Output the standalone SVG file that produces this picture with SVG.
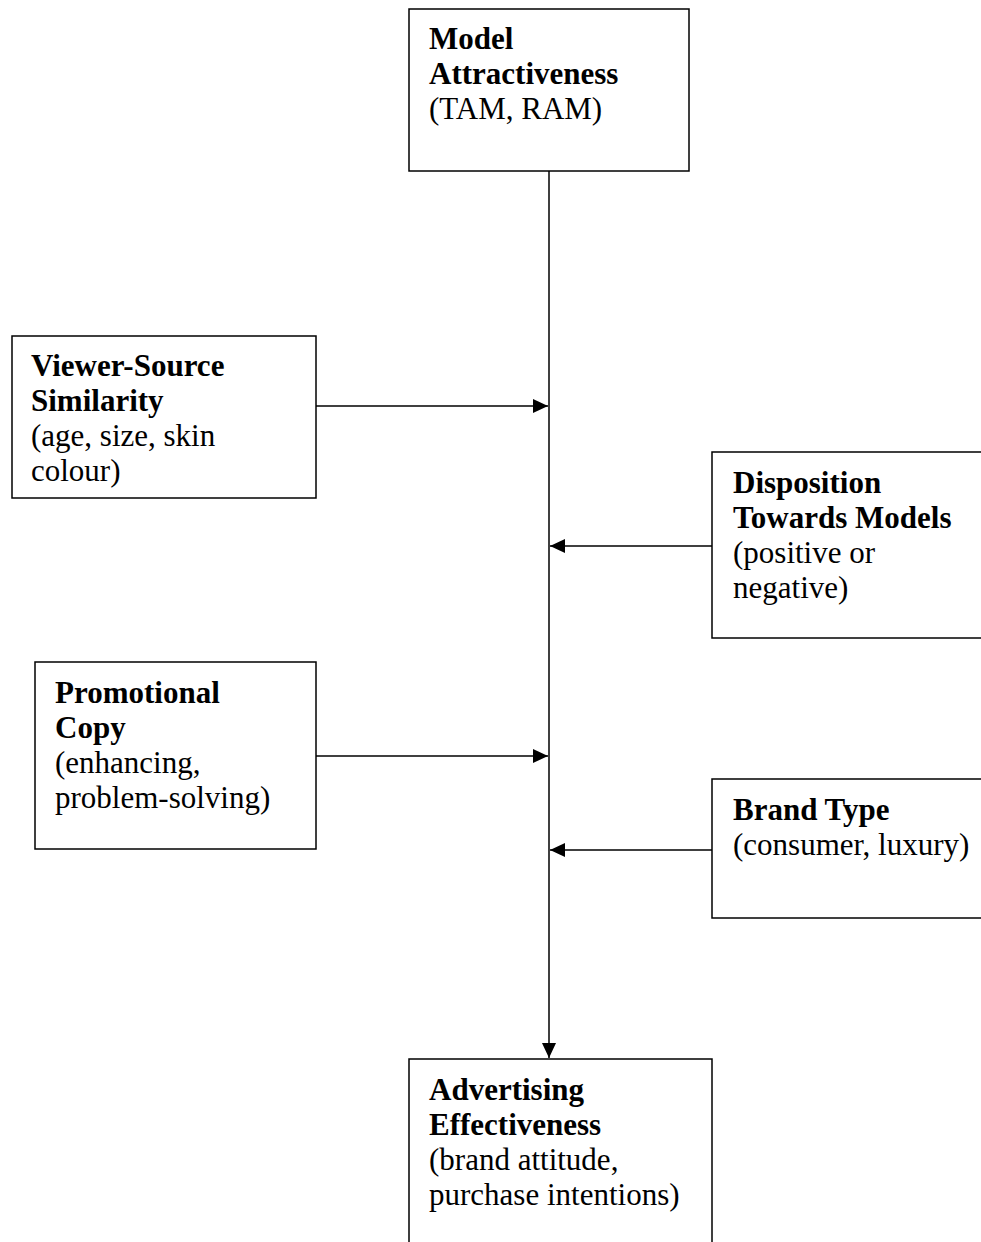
<svg xmlns="http://www.w3.org/2000/svg" width="981" height="1242" viewBox="0 0 981 1242">
<defs>
<style>
.box{fill:#fff;stroke:#000;stroke-width:1.5}
.t{font-family:"Liberation Serif","Times New Roman",serif;font-size:31px;fill:#000}
.b{font-weight:bold}
.c{fill:none;stroke:#000;stroke-width:1.5}
</style>
<marker id="ah" markerUnits="userSpaceOnUse" markerWidth="15" markerHeight="14" refX="15" refY="7" orient="auto">
<path d="M0,0 L15,7 L0,14 z" fill="#000"/>
</marker>
</defs>
<rect width="981" height="1242" fill="#fff"/>
<g id="connectors">
<path class="c" d="M549,171 V1058" marker-end="url(#ah)"/>
<path class="c" d="M316,406 H548" marker-end="url(#ah)"/>
<path class="c" d="M712,546 H550" marker-end="url(#ah)"/>
<path class="c" d="M316,756 H548" marker-end="url(#ah)"/>
<path class="c" d="M712,850 H550" marker-end="url(#ah)"/>
</g>
<g id="model-attractiveness">
<rect class="box" x="409" y="9" width="280" height="162"/>
<text class="t b" x="429" y="49">Model</text>
<text class="t b" x="429" y="84">Attractiveness</text>
<text class="t" x="429" y="119">(TAM, RAM)</text>
</g>
<g id="viewer-source-similarity">
<rect class="box" x="12" y="336" width="304" height="162"/>
<text class="t b" x="31" y="376">Viewer-Source</text>
<text class="t b" x="31" y="411">Similarity</text>
<text class="t" x="31" y="446">(age, size, skin</text>
<text class="t" x="31" y="481">colour)</text>
</g>
<g id="disposition-towards-models">
<rect class="box" x="712" y="452" width="290" height="186"/>
<text class="t b" x="733" y="493">Disposition</text>
<text class="t b" x="733" y="528">Towards Models</text>
<text class="t" x="733" y="563">(positive or</text>
<text class="t" x="733" y="598">negative)</text>
</g>
<g id="promotional-copy">
<rect class="box" x="35" y="662" width="281" height="187"/>
<text class="t b" x="55" y="703">Promotional</text>
<text class="t b" x="55" y="738">Copy</text>
<text class="t" x="55" y="773">(enhancing,</text>
<text class="t" x="55" y="808">problem-solving)</text>
</g>
<g id="brand-type">
<rect class="box" x="712" y="779" width="290" height="139"/>
<text class="t b" x="733" y="820">Brand Type</text>
<text class="t" x="733" y="855">(consumer, luxury)</text>
</g>
<g id="advertising-effectiveness">
<rect class="box" x="409" y="1059" width="303" height="200"/>
<text class="t b" x="429" y="1100">Advertising</text>
<text class="t b" x="429" y="1135">Effectiveness</text>
<text class="t" x="429" y="1170">(brand attitude,</text>
<text class="t" x="429" y="1205">purchase intentions)</text>
</g>
</svg>
